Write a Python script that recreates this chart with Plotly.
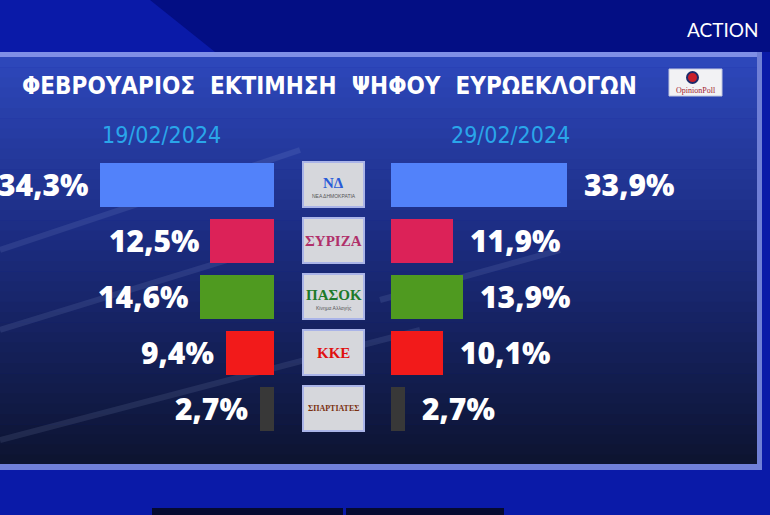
import plotly.graph_objects as go

# poll data
parties = ['ΝΔ', 'ΣΥΡΙΖΑ', 'ΠΑΣΟΚ', 'ΚΚΕ', 'ΣΠΑΡΤΙΑΤΕΣ']
feb19 = [34.3, 12.5, 14.6, 9.4, 2.7]
feb29 = [33.9, 11.9, 13.9, 10.1, 2.7]
date_left = '19/02/2024'
date_right = '29/02/2024'
title = 'ΦΕΒΡΟΥΑΡΙΟΣ  ΕΚΤΙΜΗΣΗ  ΨΗΦΟΥ  ΕΥΡΩΕΚΛΟΓΩΝ'

bar_colors = ['#5282fa', '#dc2258', '#4f9a20', '#f21a1a', '#383838']
logo_colors = ['#2a5bd7', '#b0306a', '#1d7a2a', '#e01010', '#7a3010']
logo_sub = ['ΝΕΑ ΔΗΜΟΚΡΑΤΙΑ', '', 'Κίνημα Αλλαγής', '', '']

W, H = 770, 515
def px(x):
    return x / W
def py(y):
    return 1 - y / H

def fmt(v):
    return f'{v:.1f}%'.replace('.', ',')

fig = go.Figure()
fig.add_trace(go.Bar(y=parties, x=feb19, orientation='h', xaxis='x', yaxis='y',
                     marker=dict(color=bar_colors, line=dict(width=0)),
                     width=0.77, hoverinfo='skip'))
fig.add_trace(go.Bar(y=parties, x=feb29, orientation='h', xaxis='x2', yaxis='y',
                     marker=dict(color=bar_colors, line=dict(width=0)),
                     width=0.77, hoverinfo='skip'))

shapes = []
# background: outer blue
shapes.append(dict(type='rect', xref='paper', yref='paper', x0=0, x1=1, y0=0, y1=1,
                   fillcolor='#0a1aa8', line_width=0, layer='below'))
shapes.append(dict(type='path', xref='paper', yref='paper',
                   path=f'M {px(150)},1 L 1,1 L 1,{py(52)} L {px(215)},{py(52)} Z',
                   fillcolor='#030e84', line_width=0, layer='below'))
# panel gradient
top, bot = 57, 465
stops = [(0.0, (46, 72, 188)), (0.45, (28, 44, 128)), (1.0, (13, 20, 48))]
n = 40
for i in range(n):
    t = (i + 0.5) / n
    for (a, ca), (b, cb) in zip(stops[:-1], stops[1:]):
        if a <= t <= b:
            f = (t - a) / (b - a)
            c = tuple(int(ca[k] + (cb[k] - ca[k]) * f) for k in range(3))
    y0 = top + (bot - top) * i / n
    y1 = top + (bot - top) * (i + 1) / n + 0.6
    shapes.append(dict(type='rect', xref='paper', yref='paper', x0=0, x1=px(758),
                       y0=py(y1), y1=py(y0), fillcolor='rgb(%d,%d,%d)' % c,
                       line_width=0, layer='below'))
# faint streaks
for (xa, ya, xb, yb) in [(0, 250, 300, 150), (0, 330, 260, 250), (0, 440, 420, 330), (380, 300, 560, 250)]:
    shapes.append(dict(type='line', xref='paper', yref='paper', x0=px(xa), y0=py(ya),
                       x1=px(xb), y1=py(yb), line=dict(color='rgba(200,220,255,0.10)', width=6),
                       layer='below'))
# panel frame
shapes.append(dict(type='rect', xref='paper', yref='paper', x0=0, x1=px(760), y0=py(57), y1=py(52),
                   fillcolor='#7f8fe6', line_width=0, layer='below'))
shapes.append(dict(type='rect', xref='paper', yref='paper', x0=px(757), x1=px(762), y0=py(468), y1=py(52),
                   fillcolor='#6f7fd6', line_width=0, layer='below'))
shapes.append(dict(type='rect', xref='paper', yref='paper', x0=0, x1=px(762), y0=py(470), y1=py(464),
                   fillcolor='#7080da', line_width=0, layer='below'))
# bottom tabs
shapes.append(dict(type='rect', xref='paper', yref='paper', x0=px(152), x1=px(343), y0=0, y1=py(508),
                   fillcolor='#050a30', line_width=0, layer='below'))
shapes.append(dict(type='rect', xref='paper', yref='paper', x0=px(346), x1=px(504), y0=0, y1=py(508),
                   fillcolor='#050a30', line_width=0, layer='below'))
# opinion poll logo box
shapes.append(dict(type='rect', xref='paper', yref='paper', x0=px(669), x1=px(722), y0=py(96), y1=py(69),
                   fillcolor='#f2f2f4', line=dict(color='#c0c6e0', width=1), layer='above'))
shapes.append(dict(type='circle', xref='paper', yref='paper', x0=px(687), x1=px(698), y0=py(83), y1=py(72),
                   fillcolor='#c81e2a', line=dict(color='#1c2a6a', width=2), layer='above'))

annotations = []
# party logo boxes
for i, p in enumerate(parties):
    shapes.append(dict(type='rect', xref='paper', yref='y', x0=px(303), x1=px(364),
                       y0=i - 0.4, y1=i + 0.4, fillcolor='#d6d7dc',
                       line=dict(color='#aab4e8', width=2), layer='above'))
    annotations.append(dict(x=px(333.5), y=i, xref='paper', yref='y', text=f'<b>{p}</b>',
                            xanchor='center', yanchor='middle',
                            showarrow=False, yshift=2 if logo_sub[i] else 0,
                            font=dict(family='Liberation Serif', size=15 if len(p) < 7 else 8,
                                      color=logo_colors[i])))
    if logo_sub[i]:
        annotations.append(dict(x=px(333.5), y=i, xref='paper', yref='y', text=logo_sub[i],
                                xanchor='center', yanchor='middle', showarrow=False, yshift=-11,
                                font=dict(family='Liberation Sans', size=5, color='#555')))

# value labels
lab_font = dict(family='Open Sans', size=30, color='white', weight=800)
for i, p in enumerate(parties):
    annotations.append(dict(x=feb19[i], y=p, xref='x', yref='y', text=fmt(feb19[i]),
                            xanchor='right', yanchor='middle', xshift=-10, showarrow=False, font=lab_font))
    annotations.append(dict(x=feb29[i], y=p, xref='x2', yref='y', text=fmt(feb29[i]),
                            xanchor='left', yanchor='middle', xshift=15, showarrow=False, font=lab_font))

cond = 'Liberation Sans Narrow, DejaVu Sans Condensed, Roboto'
annotations += [
    dict(x=px(20), y=py(86), xref='paper', yref='paper', text=title, xanchor='left', yanchor='middle',
         showarrow=False, font=dict(family=cond, size=24, color='white', weight='bold')),
    dict(x=px(161), y=py(135), xref='paper', yref='paper', text=date_left, showarrow=False,
         xanchor='center', yanchor='middle', font=dict(family=cond, size=23, color='#2aa6ea', weight=500)),
    dict(x=px(510), y=py(135), xref='paper', yref='paper', text=date_right, showarrow=False,
         xanchor='center', yanchor='middle', font=dict(family=cond, size=23, color='#2aa6ea', weight=500)),
    dict(x=px(695.5), y=py(90), xref='paper', yref='paper', text='OpinionPoll', showarrow=False,
         xanchor='center', yanchor='middle', font=dict(family='Liberation Serif', size=8, color='#a02030')),
    dict(x=px(760), y=py(30), xref='paper', yref='paper', text='ACTION', xanchor='right', yanchor='middle',
         showarrow=False, font=dict(family='Lato', size=19, color='white')),
]

fig.update_layout(
    width=W, height=H, margin=dict(l=0, r=0, t=0, b=0),
    paper_bgcolor='#0a1aa8', plot_bgcolor='rgba(0,0,0,0)',
    showlegend=False, bargap=0,
    xaxis=dict(domain=[px(274 - 40 * 5.07), px(274)], range=[40, 0], visible=False, fixedrange=True),
    xaxis2=dict(domain=[px(391), px(391 + 40 * 5.18)], range=[0, 40], visible=False, anchor='y'),
    yaxis=dict(domain=[py(436.5), py(156.5)], type='category', categoryorder='array',
               categoryarray=parties, range=[4.5, -0.5], visible=False),
    shapes=shapes, annotations=annotations,
)

fig.write_html('out.html', config={'displayModeBar': False},
               post_script="document.body.style.margin='0';")
